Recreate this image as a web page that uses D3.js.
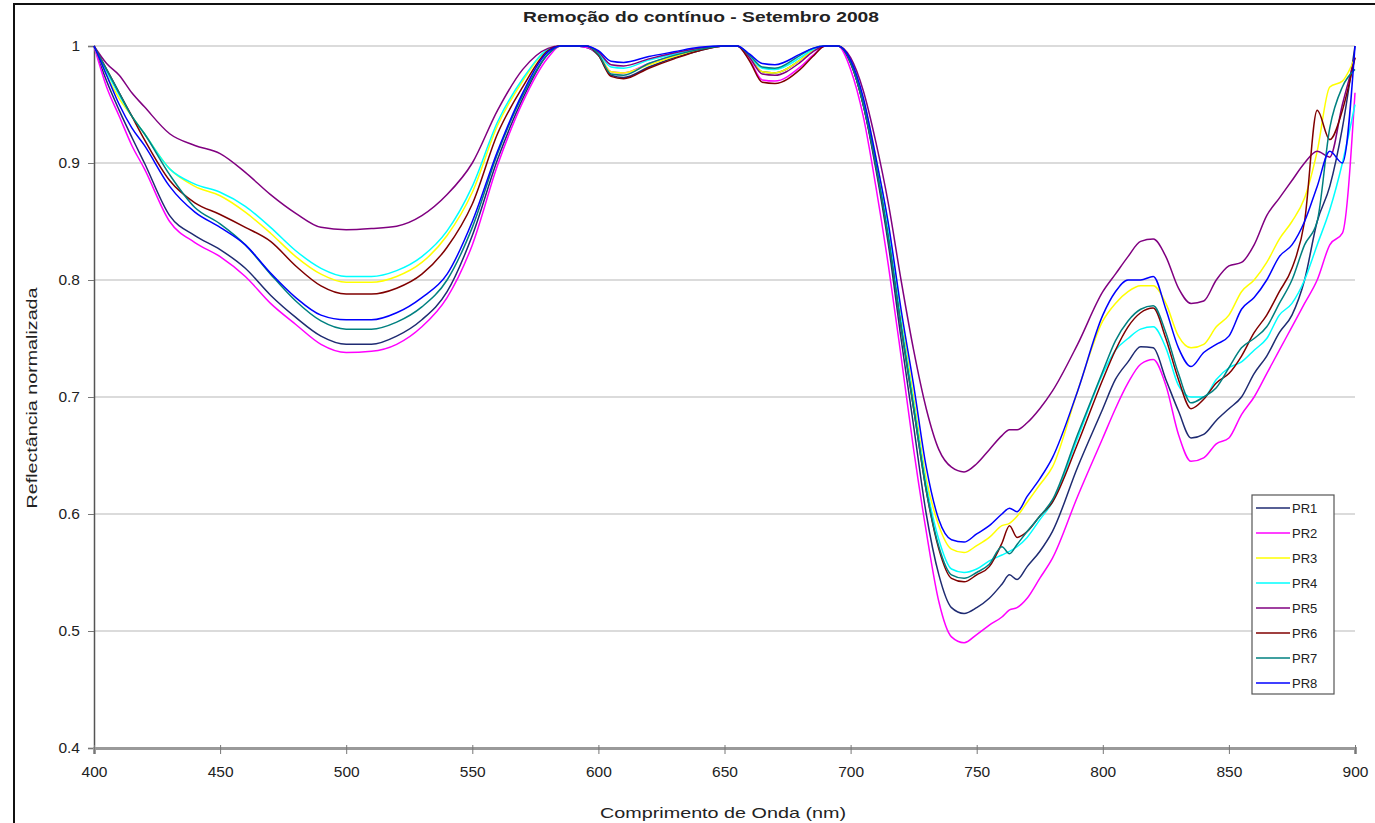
<!DOCTYPE html>
<html>
<head>
<meta charset="utf-8">
<script src="https://cdn.jsdelivr.net/npm/d3@7"></script>
<style>
  body { margin: 0; background: #fff; }
  text { font-family: "Liberation Sans", Arial, sans-serif; fill: #222; }
</style>
</head>
<body>
<div class="chart"></div>
<script>
// wavelengths (nm) shared by every series
const WAVELENGTHS = [
  400, 405, 410, 415, 420,
  430, 440, 450, 460, 470, 480, 490, 500, 510, 520, 530, 540, 550, 560, 570, 580,
  585, 590, 595,
  600, 605, 610, 620, 630, 640, 650, 655, 660, 665, 670, 680, 685, 690, 695,
  700, 705, 710, 715, 720, 725, 730, 735, 740, 745, 750, 755, 760, 763, 766, 770, 775, 780, 790,
  800, 805, 810, 815, 820, 825, 830, 835, 840, 845, 850, 855, 860, 865, 870, 875, 880, 885, 890, 895, 900,
];

const PR1 = [
  1.0, 0.97, 0.945, 0.922, 0.9,
  0.855, 0.838, 0.826, 0.81, 0.787, 0.768, 0.752, 0.745, 0.745, 0.752, 0.766, 0.79, 0.838, 0.903, 0.955, 0.993,
  1.0, 1.0, 0.999,
  0.992, 0.975, 0.973, 0.982, 0.99, 0.996, 1.0, 1.0, 0.99, 0.978, 0.977, 0.988, 0.996, 1.0, 1.0,
  0.985, 0.95, 0.895, 0.83, 0.75, 0.675, 0.6, 0.548, 0.52, 0.515, 0.52, 0.528, 0.54, 0.548, 0.544, 0.555, 0.568, 0.585, 0.64,
  0.69, 0.715, 0.73, 0.743, 0.742, 0.715, 0.688, 0.665, 0.668, 0.68, 0.69, 0.7, 0.72, 0.735, 0.755, 0.77, 0.8, 0.85, 0.88, 0.93, 1.0,
];
const PR2 = [
  1.0, 0.965, 0.94, 0.915, 0.895,
  0.85, 0.832, 0.82, 0.803, 0.78, 0.762, 0.745, 0.738, 0.739, 0.745, 0.76, 0.785, 0.83, 0.898, 0.952, 0.99,
  1.0, 1.0, 0.999,
  0.993, 0.978, 0.977, 0.985, 0.992, 0.997, 1.0, 1.0, 0.988, 0.971, 0.97, 0.982, 0.992, 1.0, 1.0,
  0.98, 0.94, 0.88, 0.812, 0.735, 0.655, 0.585, 0.525, 0.495, 0.49, 0.497, 0.505, 0.512, 0.518, 0.52, 0.528, 0.545, 0.562, 0.615,
  0.665, 0.69, 0.712, 0.728, 0.732, 0.71, 0.668, 0.645, 0.648, 0.66, 0.665, 0.685, 0.7, 0.72, 0.74, 0.76, 0.78, 0.8, 0.83, 0.84, 0.96,
];
const PR3 = [
  1.0, 0.975, 0.955, 0.94, 0.925,
  0.895, 0.88, 0.872, 0.858, 0.84, 0.82, 0.805, 0.798, 0.798, 0.803, 0.815, 0.838, 0.875, 0.932, 0.97, 0.997,
  1.0, 1.0, 1.0,
  0.993, 0.978, 0.977, 0.984, 0.991, 0.997, 1.0, 1.0, 0.99, 0.978, 0.977, 0.988, 0.996, 1.0, 1.0,
  0.988, 0.955, 0.905, 0.845, 0.77, 0.7, 0.63, 0.59, 0.57, 0.567, 0.573, 0.58, 0.59, 0.592, 0.598, 0.61, 0.625, 0.64, 0.705,
  0.765, 0.78, 0.79, 0.795, 0.795, 0.78, 0.752, 0.742, 0.745, 0.76, 0.77, 0.79, 0.8, 0.815, 0.835, 0.85, 0.87, 0.91, 0.965, 0.97, 0.99,
];
const PR4 = [
  1.0, 0.978, 0.958, 0.94, 0.925,
  0.895, 0.882, 0.875, 0.863, 0.845, 0.825, 0.81, 0.803, 0.803, 0.808, 0.82, 0.842, 0.88, 0.935, 0.972, 0.997,
  1.0, 1.0, 1.0,
  0.994, 0.982, 0.981, 0.988, 0.993, 0.998, 1.0, 1.0, 0.991, 0.981, 0.98, 0.99, 0.997, 1.0, 1.0,
  0.987, 0.952, 0.9, 0.84, 0.765, 0.695, 0.625, 0.578, 0.553, 0.55, 0.553, 0.56, 0.565, 0.568, 0.572, 0.58, 0.595, 0.61, 0.665,
  0.72, 0.74, 0.75, 0.758, 0.76, 0.742, 0.71, 0.7, 0.7, 0.715, 0.725, 0.73, 0.74, 0.75, 0.77, 0.78, 0.8, 0.83, 0.86, 0.9, 0.95,
];
const PR5 = [
  1.0, 0.985, 0.975, 0.96, 0.948,
  0.925, 0.915, 0.908, 0.892, 0.873, 0.857, 0.845, 0.843, 0.844, 0.846, 0.855, 0.873, 0.9, 0.945, 0.98, 0.998,
  1.0, 1.0, 1.0,
  0.995, 0.984, 0.983, 0.989, 0.994, 0.998, 1.0, 1.0, 0.99, 0.976, 0.975, 0.986, 0.995, 1.0, 1.0,
  0.99, 0.962, 0.918, 0.865, 0.8, 0.74, 0.69, 0.655, 0.64, 0.636, 0.643, 0.655, 0.667, 0.672, 0.672, 0.678, 0.69, 0.705, 0.745,
  0.79, 0.805, 0.82, 0.833, 0.835, 0.82, 0.793, 0.78, 0.782, 0.8, 0.812, 0.815, 0.83, 0.855, 0.87, 0.885, 0.9, 0.91, 0.905, 0.95, 0.99,
];
const PR6 = [
  1.0, 0.98, 0.96, 0.94, 0.92,
  0.885, 0.866, 0.856, 0.845, 0.833, 0.812, 0.795, 0.788, 0.788, 0.793, 0.805, 0.828, 0.865, 0.925, 0.965, 0.996,
  1.0, 1.0, 1.0,
  0.992, 0.974, 0.972, 0.981, 0.989, 0.996, 1.0, 1.0, 0.987, 0.969, 0.968, 0.98, 0.991, 1.0, 1.0,
  0.986, 0.95, 0.898, 0.835, 0.76, 0.69, 0.62, 0.57, 0.545, 0.542, 0.548, 0.555, 0.575, 0.59, 0.58, 0.585, 0.598, 0.61, 0.66,
  0.715, 0.74, 0.76, 0.772, 0.776, 0.75, 0.715, 0.69, 0.698, 0.712, 0.72, 0.735, 0.755, 0.77, 0.79, 0.81, 0.85, 0.945, 0.92, 0.945, 0.99,
];
const PR7 = [
  1.0, 0.98, 0.96, 0.94, 0.925,
  0.89, 0.862, 0.848, 0.83, 0.805, 0.782, 0.765, 0.758, 0.758, 0.764, 0.777, 0.8, 0.845, 0.908, 0.958, 0.993,
  1.0, 1.0, 1.0,
  0.993, 0.976, 0.975, 0.985, 0.992, 0.997, 1.0, 1.0, 0.992, 0.982, 0.981, 0.992, 0.998, 1.0, 1.0,
  0.986, 0.95, 0.898, 0.835, 0.76, 0.69, 0.62, 0.572, 0.548, 0.545, 0.55, 0.557, 0.572, 0.566, 0.574, 0.585, 0.598, 0.612, 0.668,
  0.722, 0.748, 0.765, 0.775, 0.778, 0.755, 0.72, 0.695, 0.7, 0.708, 0.725, 0.742, 0.75, 0.76, 0.78, 0.8, 0.83, 0.85, 0.93, 0.965, 0.98,
];
const PR8 = [
  1.0, 0.975, 0.95, 0.93, 0.915,
  0.88, 0.858, 0.845, 0.83, 0.806, 0.785, 0.77, 0.766, 0.766, 0.772, 0.785, 0.805, 0.85, 0.91, 0.96, 0.995,
  1.0, 1.0, 1.0,
  0.996, 0.987, 0.986, 0.991, 0.995, 0.999, 1.0, 1.0, 0.993, 0.985, 0.984, 0.993, 0.998, 1.0, 1.0,
  0.988, 0.956, 0.905, 0.848, 0.775, 0.71, 0.64, 0.595, 0.578, 0.576, 0.583, 0.59, 0.6, 0.605, 0.602, 0.615, 0.63, 0.648, 0.705,
  0.77, 0.79, 0.8, 0.8, 0.803, 0.775, 0.742, 0.726, 0.738, 0.745, 0.752, 0.775, 0.785, 0.8, 0.82, 0.83, 0.85, 0.88, 0.91, 0.9, 1.0,
];

const SERIES_NAMES = ["PR1", "PR2", "PR3", "PR4", "PR5", "PR6", "PR7", "PR8"];
const SERIES_VALUES = [PR1, PR2, PR3, PR4, PR5, PR6, PR7, PR8];
const X_TICKS = [400, 450, 500, 550, 600, 650, 700, 750, 800, 850, 900];
const Y_TICKS = [0.4, 0.5, 0.6, 0.7, 0.8, 0.9, 1];

const TITLE = "Remoção do contínuo - Setembro 2008";
const X_LABEL = "Comprimento de Onda (nm)";
const Y_LABEL = "Reflectância normalizada";

// excel's default series palette
const COLORS = ["#1f2b72", "#ff00ff", "#ffff00", "#00ffff", "#800080", "#800000", "#008080", "#0000ff"];

const WIDTH = 1375;
const HEIGHT = 823;
const PLOT = { left: 94, right: 1355, top: 46, bottom: 748 };

const svg = d3.select(".chart")
  .append("svg")
  .attr("width", WIDTH)
  .attr("height", HEIGHT);

svg.append("rect").attr("width", WIDTH).attr("height", HEIGHT).attr("fill", "#fff");

// outer chart frame (right and bottom edges fall outside the picture)
svg.append("rect")
  .attr("x", 14).attr("y", 4)
  .attr("width", 1400).attr("height", 900)
  .attr("fill", "none")
  .attr("stroke", "#111")
  .attr("stroke-width", 2);

const xScale = d3.scaleLinear().domain([400, 900]).range([PLOT.left, PLOT.right]);
const yScale = d3.scaleLinear().domain([0.4, 1]).range([PLOT.bottom, PLOT.top]);

// horizontal gridlines
svg.append("g")
  .selectAll("line")
  .data(Y_TICKS.filter(d => d > 0.4))
  .join("line")
  .attr("x1", PLOT.left).attr("x2", PLOT.right)
  .attr("y1", d => yScale(d)).attr("y2", d => yScale(d))
  .attr("stroke", "#cfcfcf")
  .attr("stroke-width", 1.3);

// y axis
const yAxis = svg.append("g")
  .attr("transform", `translate(${PLOT.left}, 0)`)
  .call(d3.axisLeft(yScale)
    .tickValues(Y_TICKS)
    .tickSize(6)
    .tickPadding(8)
    .tickFormat(d => (d === 1 ? "1" : d3.format(".1f")(d))));
yAxis.select(".domain").attr("stroke", "#555").attr("stroke-width", 1.5);
yAxis.selectAll(".tick line").attr("stroke", "#777");
yAxis.selectAll(".tick text")
  .attr("font-size", 15.5)
  .attr("font-family", "Liberation Sans, Arial, sans-serif")
  .attr("fill", "#333");

// x axis
const xAxis = svg.append("g")
  .attr("transform", `translate(0, ${PLOT.bottom})`)
  .call(d3.axisBottom(xScale).tickValues(X_TICKS).tickSize(6).tickPadding(12));
xAxis.select(".domain").attr("stroke", "#9a9a9a").attr("stroke-width", 3);
xAxis.selectAll(".tick line").attr("y1", -3).attr("stroke", "#777");
xAxis.selectAll(".tick text")
  .attr("font-size", 15.5)
  .attr("font-family", "Liberation Sans, Arial, sans-serif")
  .attr("fill", "#333");

// spectra
const line = d3.line()
  .x((d, i) => xScale(WAVELENGTHS[i]))
  .y(d => yScale(d))
  .curve(d3.curveMonotoneX);

svg.append("g")
  .selectAll("path")
  .data(SERIES_VALUES)
  .join("path")
  .attr("d", d => line(d))
  .attr("fill", "none")
  .attr("stroke", (d, i) => COLORS[i])
  .attr("stroke-width", 1.5)
  .attr("stroke-linejoin", "round");

// title and axis labels
svg.append("text")
  .attr("x", 701).attr("y", 22)
  .attr("text-anchor", "middle")
  .attr("font-size", 15)
  .attr("font-weight", "bold")
  .attr("textLength", 356)
  .attr("lengthAdjust", "spacingAndGlyphs")
  .text(TITLE);

svg.append("text")
  .attr("x", 723).attr("y", 818)
  .attr("text-anchor", "middle")
  .attr("font-size", 15)
  .attr("textLength", 246)
  .attr("lengthAdjust", "spacingAndGlyphs")
  .text(X_LABEL);

svg.append("text")
  .attr("transform", "translate(37, 398) rotate(-90)")
  .attr("text-anchor", "middle")
  .attr("font-size", 15)
  .attr("textLength", 221)
  .attr("lengthAdjust", "spacingAndGlyphs")
  .text(Y_LABEL);

// legend
const legend = svg.append("g").attr("transform", "translate(1252, 495)");
legend.append("rect")
  .attr("width", 82).attr("height", 199)
  .attr("fill", "#fff")
  .attr("stroke", "#555")
  .attr("stroke-width", 1.2);

const entry = legend.selectAll(".entry")
  .data(SERIES_NAMES)
  .join("g")
  .attr("class", "entry")
  .attr("transform", (d, i) => `translate(0, ${13 + i * 25})`);
entry.append("line")
  .attr("x1", 4).attr("x2", 38)
  .attr("stroke", (d, i) => COLORS[i])
  .attr("stroke-width", 1.5);
entry.append("text")
  .attr("x", 40).attr("dy", "0.35em")
  .attr("font-size", 13)
  .text(d => d);
</script>
</body>
</html>
